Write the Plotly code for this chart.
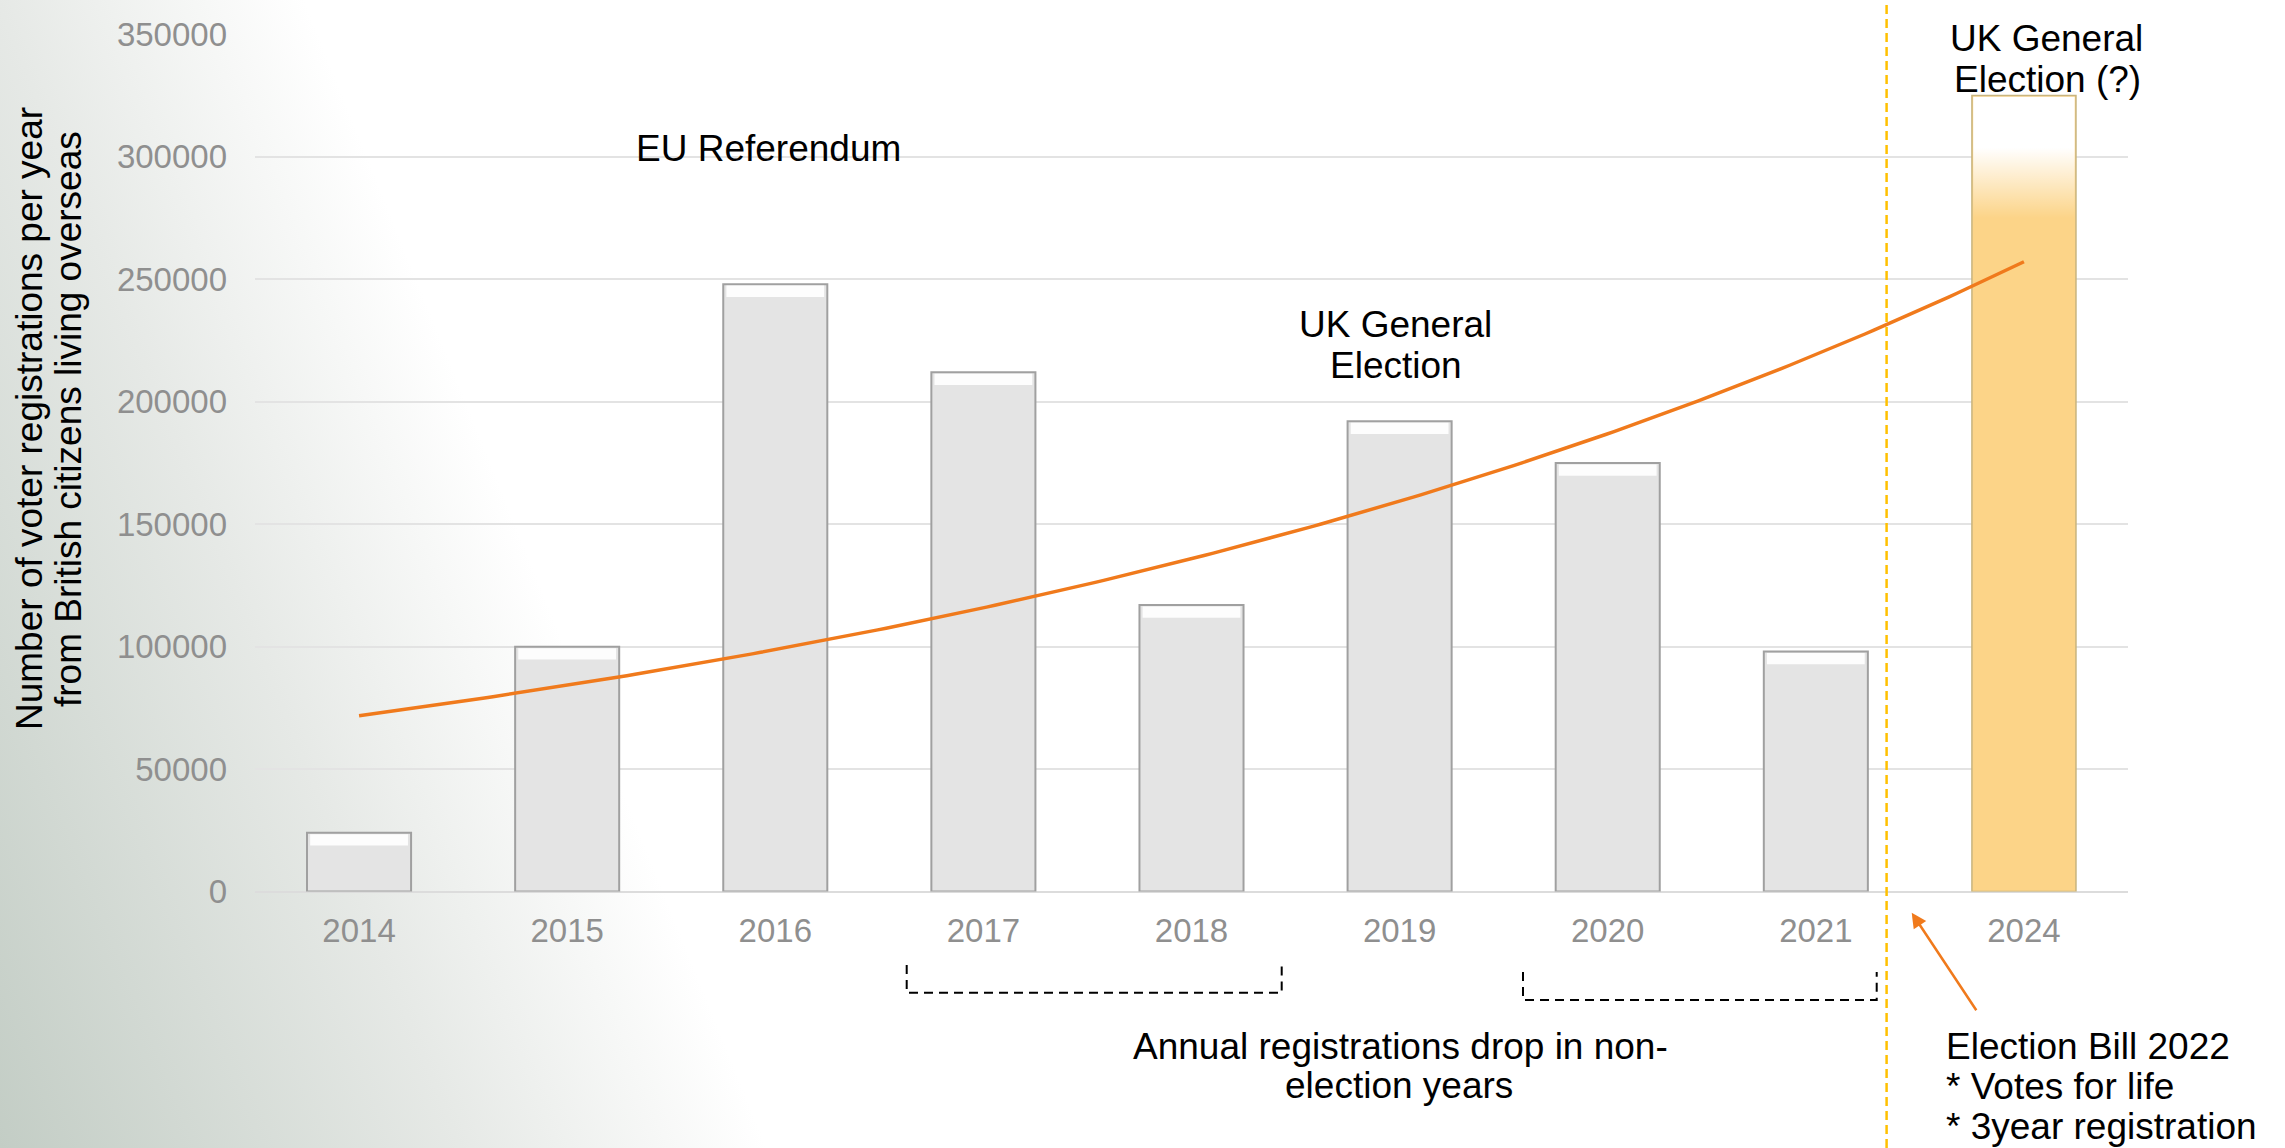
import base64
import numpy as np
import plotly.graph_objects as go

# ---------------- data ----------------
years = ["2014", "2015", "2016", "2017", "2018", "2019", "2020", "2021", "2024"]
registrations = [24000, 100000, 248000, 212000, 117000, 192000, 175000, 98000, 325000]
y_ticks = [0, 50000, 100000, 150000, 200000, 250000, 300000, 350000]

W, H = 2285, 1148
FONT = "Liberation Sans, Arial, sans-serif"
ORANGE = "#F07A1C"


def px(x):
    return x / W


def py(y):
    return 1 - y / H


pos = np.arange(len(years))
hist_pos = pos[:-1]
hist_vals = np.array(registrations[:-1])

# Exponential trendline (least squares on log values, like a spreadsheet trendline)
slope, intercept = np.polyfit(pos, np.log(registrations), 1)
trend_x = np.linspace(pos[0], pos[-1], 200)
trend_y = np.exp(intercept + slope * trend_x)

fig = go.Figure()

# historical bars
fig.add_trace(go.Bar(
    x=hist_pos, y=hist_vals, width=0.5,
    marker=dict(color="#e4e4e4", line=dict(color="#a0a0a0", width=2)),
    hoverinfo="skip",
))
# bevel highlight on top of each bar
bev = 4600
fig.add_trace(go.Bar(
    x=hist_pos, y=[bev] * len(hist_vals), base=hist_vals - bev - 600, width=0.47,
    marker=dict(color="rgba(255,255,255,0.9)", line=dict(width=0)),
    hoverinfo="skip",
))
# 2024 projected bar
fig.add_trace(go.Bar(
    x=[pos[-1]], y=[registrations[-1]], width=0.5,
    marker=dict(color="#fcd488", line=dict(color="#c8b47e", width=1.5)),
    hoverinfo="skip",
))
# white fade at the top of the 2024 bar
top = registrations[-1]
fade_lo = top - 50000
half = 0.25 - 0.006
fig.add_trace(go.Scatter(
    x=[pos[-1] - half, pos[-1] + half, pos[-1] + half, pos[-1] - half, pos[-1] - half],
    y=[fade_lo, fade_lo, top - 500, top - 500, fade_lo],
    mode="lines", fill="toself", line=dict(width=0),
    fillgradient=dict(type="vertical", colorscale=[
        [0, "rgba(255,255,255,0)"], [0.58, "rgba(255,255,255,1)"], [1, "rgba(255,255,255,1)"]]),
    hoverinfo="skip",
))
# trendline
fig.add_trace(go.Scatter(
    x=trend_x, y=trend_y, mode="lines",
    line=dict(color=ORANGE, width=3.5), hoverinfo="skip",
))

# background gradient
svg = (
    f'<svg xmlns="http://www.w3.org/2000/svg" width="{W}" height="{H}" viewBox="0 0 {W} {H}">'
    '<defs><linearGradient id="g" gradientUnits="userSpaceOnUse" x1="0" y1="1148" x2="660" y2="882">'
    '<stop offset="0" stop-color="#c3cdc5"/><stop offset="0.6" stop-color="#e6e9e6"/>'
    '<stop offset="1" stop-color="#ffffff"/>'
    '</linearGradient></defs>'
    f'<rect width="{W}" height="{H}" fill="url(#g)"/></svg>'
)
bg_src = "data:image/svg+xml;base64," + base64.b64encode(svg.encode()).decode()

shapes = [
    # separator before 2024
    dict(type="line", xref="x", yref="paper", x0=7.34, x1=7.34, y0=0, y1=1,
         line=dict(color="#FFC000", width=2.5, dash="9px,5px")),
    # brackets
    dict(type="path", xref="paper", yref="paper",
         path=f"M {px(906.7)},{py(965)} L {px(906.7)},{py(992.7)} L {px(1281.7)},{py(992.7)} L {px(1281.7)},{py(965)}",
         line=dict(color="black", width=2, dash="9px,6px")),
    dict(type="path", xref="paper", yref="paper",
         path=f"M {px(1523)},{py(972)} L {px(1523)},{py(1000)} L {px(1876.7)},{py(1000)} L {px(1876.7)},{py(972)}",
         line=dict(color="black", width=2, dash="9px,6px")),
]

texts = [
    ("EU Referendum", 768.5, 148.6, "center"),
    ("UK General", 1395.5, 324.5, "center"),
    ("Election", 1395.5, 365.0, "center"),
    ("UK General", 2046.5, 38.5, "center"),
    ("Election (?)", 2047.0, 79.5, "center"),
    ("Annual registrations drop in non-", 1400.0, 1046.7, "center"),
    ("election years", 1399.0, 1085.0, "center"),
    ("Election Bill 2022", 1944.0, 1046.0, "left"),
    ("* Votes for life", 1944.0, 1086.0, "left"),
    ("* 3year registration", 1944.0, 1126.0, "left"),
]
annotations = [
    dict(text=t, x=px(x), y=py(y), xref="paper", yref="paper", xanchor=a, yanchor="middle",
         showarrow=False, font=dict(family=FONT, size=37, color="black"))
    for t, x, y, a in texts
]
# y axis title (two lines)
for t, x in [("Number of voter registrations per year", 30), ("from British citizens living overseas", 69)]:
    annotations.append(dict(text=t, x=px(x), y=py(419), xref="paper", yref="paper",
                            xanchor="center", yanchor="middle", textangle=-90, showarrow=False,
                            font=dict(family=FONT, size=37, color="black")))
# arrow
annotations.append(dict(text="", x=px(1911.7), y=py(912.7), xref="paper", yref="paper",
                        ax=65.6, ay=99, showarrow=True, arrowhead=2, arrowsize=1.2,
                        arrowwidth=2.5, arrowcolor=ORANGE))

fig.update_layout(
    template="none",
    width=W, height=H,
    margin=dict(l=0, r=0, t=0, b=0, pad=0),
    paper_bgcolor="white", plot_bgcolor="rgba(0,0,0,0)",
    barmode="overlay", showlegend=False,
    font=dict(family=FONT),
    images=[dict(source=bg_src, xref="paper", yref="paper", x=0, y=1, sizex=1, sizey=1,
                 sizing="stretch", xanchor="left", yanchor="top", layer="below")],
    xaxis=dict(domain=[255 / W, 2128 / W], range=[-0.5, 8.5], tickvals=pos, ticktext=years,
               tickfont=dict(size=33, color="#8f8f8f", family=FONT), showgrid=False,
               zeroline=False, showline=False, ticks="", automargin=False, ticklabelstandoff=16),
    yaxis=dict(domain=[1 - 891.6 / H, 1 - 34.3 / H], range=[0, 350000], tickvals=y_ticks,
               tickformat="d", tickfont=dict(size=33, color="#8f8f8f", family=FONT),
               showgrid=True, gridcolor="#e3e3e3", gridwidth=2, zeroline=True,
               zerolinecolor="#dcdcdc", zerolinewidth=2, showline=False, ticks="",
               automargin=False, ticklabelstandoff=27),
    shapes=shapes,
    annotations=annotations,
)

fig.write_html("out.html")
